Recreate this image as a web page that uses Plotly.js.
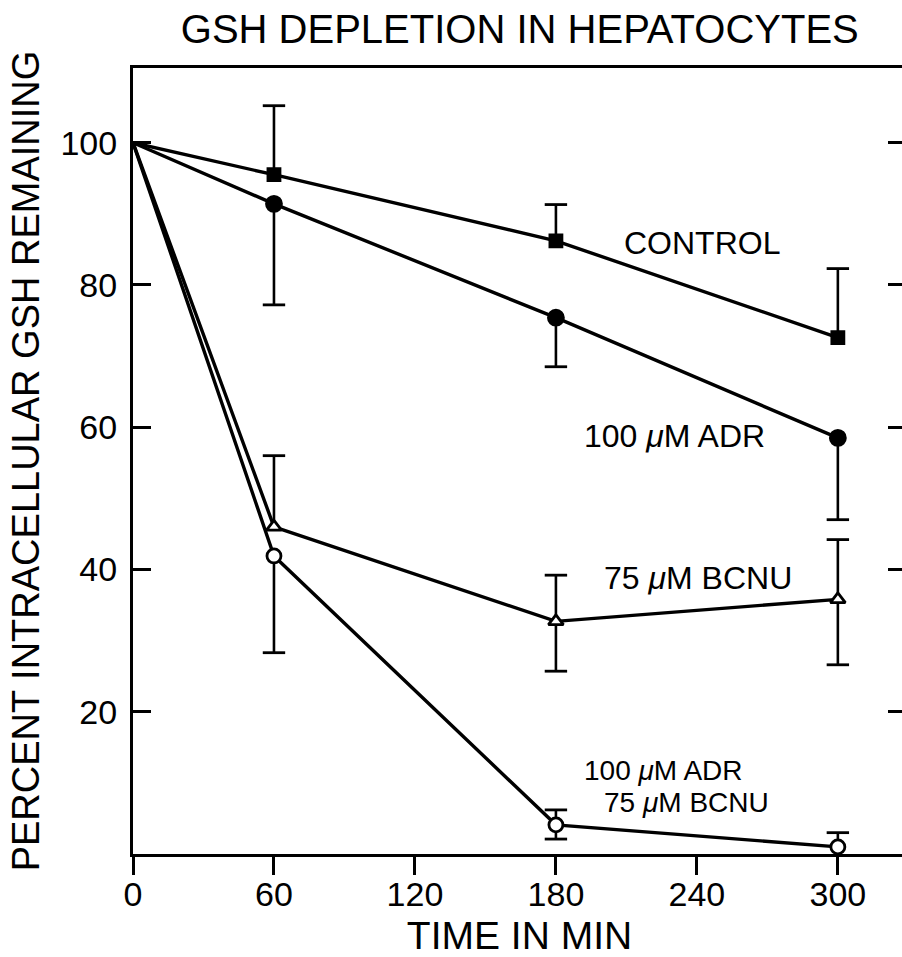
<!DOCTYPE html>
<html><head><meta charset="utf-8">
<script src="https://cdn.plot.ly/plotly-3.0.1.min.js"></script>
<style>html,body{margin:0;padding:0;overflow:hidden;background:#fff}</style>
</head><body><div id="chart"></div>
<script>
const timeMin = [0, 60, 180, 300];
const controlVals = [100, 95.5, 86.2, 72.6];
const controlErrUp = [0, 9.7, 5.1, 9.7];
const controlErrDown = [0, 0, 0, 0];
const adrVals = [100, 91.4, 75.4, 58.5];
const adrErrUp = [0, 0, 0, 0];
const adrErrDown = [0, 14.2, 6.9, 11.5];
const bcnuVals = [100, 46, 32.7, 35.8];
const bcnuErrUp = [0, 10, 6.5, 8.4];
const bcnuErrDown = [0, 0, 7, 9.2];
const comboVals = [100, 41.9, 4.1, 1.0];
const comboErrUp = [0, 0, 2.1, 2.0];
const comboErrDown = [0, 13.6, 2.0, 2.0];
const xTicks = [0, 60, 120, 180, 240, 300];
const yTicks = [20, 40, 60, 80, 100];

function errTraces(x, y, up, down) {
  const lx = [], ly = [], cx = [], cy = [];
  for (let i = 0; i < x.length; i++) {
    if (up[i] > 0) { lx.push(x[i], x[i], null); ly.push(y[i], y[i] + up[i], null); cx.push(x[i]); cy.push(y[i] + up[i]); }
    if (down[i] > 0) { lx.push(x[i], x[i], null); ly.push(y[i], y[i] - down[i], null); cx.push(x[i]); cy.push(y[i] - down[i]); }
  }
  return [
    {x: lx, y: ly, mode: 'lines', line: {color: '#000', width: 2.6}, hoverinfo: 'skip', showlegend: false, cliponaxis: false},
    {x: cx, y: cy, mode: 'markers', marker: {symbol: 'line-ew', size: 16, color: '#000', opacity: 1, line: {color: '#000', width: 2.8}}, hoverinfo: 'skip', showlegend: false, cliponaxis: false}
  ];
}
function series(y, symbol, size, fill) {
  return {x: timeMin, y: y, mode: 'lines+markers', cliponaxis: false, showlegend: false,
    line: {color: '#000', width: 3.4},
    marker: {symbol: symbol, size: timeMin.map(t => t === 0 ? 0 : size), sizemode: 'diameter', opacity: 1, color: fill, line: {color: '#000', width: 2.8}}};
}
const data = [].concat(
  errTraces(timeMin, controlVals, controlErrUp, controlErrDown),
  errTraces(timeMin, adrVals, adrErrUp, adrErrDown),
  errTraces(timeMin, bcnuVals, bcnuErrUp, bcnuErrDown),
  errTraces(timeMin, comboVals, comboErrUp, comboErrDown),
  [series(controlVals, 'square', 12, '#000'),
   series(adrVals, 'circle', 15, '#000'),
   series(bcnuVals, 'triangle-up', 13, '#fff'),
   series(comboVals, 'circle', 14, '#fff')]
);
const F = 'Liberation Sans, Arial, sans-serif';
const ann = (x, y, t, s) => ({x: x, y: y, xref: 'x', yref: 'y', text: t, showarrow: false, xanchor: 'left', yanchor: 'middle', font: {family: F, size: s, color: '#000'}});
const layout = {
  width: 920, height: 957,
  margin: {l: 133, r: 14, t: 68, b: 103},
  paper_bgcolor: '#fff', plot_bgcolor: '#fff',
  font: {family: F, color: '#000'},
  title: {text: 'GSH DEPLETION IN HEPATOCYTES', x: 0.565, xanchor: 'center', y: 0.97, yanchor: 'middle',
          font: {family: F, size: 40, color: '#000'}},
  xaxis: {range: [0, 329], tickvals: xTicks, ticktext: xTicks.map(String), ticks: 'outside', ticklen: 18, tickwidth: 3,
          tickcolor: '#000', showline: true, linewidth: 3, linecolor: '#000', mirror: true, showgrid: false, zeroline: false,
          tickfont: {family: F, size: 34, color: '#000'}, ticklabelstandoff: -10,
          title: {text: 'TIME IN MIN', font: {family: F, size: 39, color: '#000'}, standoff: 10}},
  yaxis: {range: [0, 110.5], tickvals: yTicks, ticktext: yTicks.map(String), ticks: 'inside', ticklen: 18, tickwidth: 3,
          tickcolor: '#000', showline: true, linewidth: 3, linecolor: '#000', mirror: 'ticks', showgrid: false, zeroline: false,
          tickfont: {family: F, size: 34, color: '#000'}, ticklabelstandoff: 6,
          title: {text: 'PERCENT INTRACELLULAR GSH REMAINING', font: {family: F, size: 38, color: '#000'}, standoff: 10}},
  annotations: [
    ann(208, 85.9, 'CONTROL', 32),
    ann(191, 58.7, '100 <i>μ</i>M ADR', 32),
    ann(199.6, 38.8, '75 <i>μ</i>M BCNU', 32),
    ann(191, 11.8, '100 <i>μ</i>M ADR', 28),
    ann(199.6, 7.3, '75 <i>μ</i>M BCNU', 28)
  ]
};
Plotly.newPlot('chart', data, layout, {displayModeBar: false, staticPlot: true});
</script></body></html>
